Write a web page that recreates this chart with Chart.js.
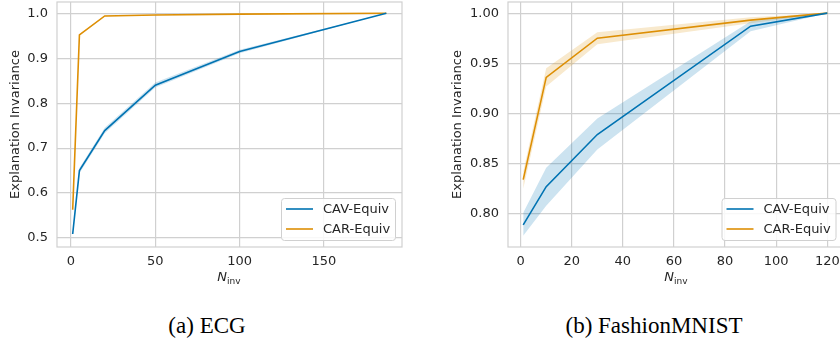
<!DOCTYPE html>
<html>
<head>
<meta charset="utf-8">
<script src="https://cdn.jsdelivr.net/npm/chart.js@4"></script>
<style>
  html, body { margin: 0; padding: 0; background: #fff; overflow: hidden; }
  #wrap { position: relative; width: 840px; height: 339px; overflow: hidden; }
  canvas { position: absolute; top: 0; }
  .xt { position: absolute; top: 269px; font: 13px "DejaVu Sans"; color: #262626; transform: translateX(-50%); white-space: nowrap; }
  .xt sub { font-size: 9px; vertical-align: -3px; }
  .cap { position: absolute; top: 314px; font: 23px/23px "Liberation Serif"; color: #000; transform: translateX(-50%); white-space: nowrap; }
</style>
</head>
<body>
<div id="wrap">
  <canvas id="ecg"></canvas>
  <canvas id="fm"></canvas>
  <div class="xt" style="left:229px"><i>N</i><sub>inv</sub></div>
  <div class="xt" style="left:676px"><i>N</i><sub>inv</sub></div>
  <div class="cap" style="left:207px">(a) ECG</div>
  <div class="cap" style="left:654px">(b) FashionMNIST</div>
</div>
<script>
// ECG panel
const ecgN = [1, 5, 20, 50, 100, 187];
const ecgCav = [0.509, 0.650, 0.739, 0.840, 0.915, 1.0];
const ecgCavLo = [0.505, 0.644, 0.733, 0.835, 0.911, 1.0];
const ecgCavHi = [0.513, 0.656, 0.745, 0.846, 0.919, 1.0];
const ecgCar = [0.563, 0.952, 0.994, 0.996, 0.998, 1.0];
const ecgCarLo = [0.560, 0.950, 0.993, 0.996, 0.998, 1.0];
const ecgCarHi = [0.566, 0.954, 0.995, 0.997, 0.998, 1.0];
const ecgXTicks = [0, 50, 100, 150];
const ecgYTicks = [0.5, 0.6, 0.7, 0.8, 0.9, 1.0];

// FashionMNIST panel
const fmN = [1, 10, 30, 90, 120];
const fmCav = [0.789, 0.827, 0.879, 0.987, 1.0];
const fmCavLo = [0.778, 0.808, 0.864, 0.982, 1.0];
const fmCavHi = [0.801, 0.846, 0.895, 0.992, 1.0];
const fmCar = [0.834, 0.936, 0.975, 0.993, 1.0];
const fmCarLo = [0.825, 0.927, 0.969, 0.990, 1.0];
const fmCarHi = [0.842, 0.945, 0.981, 0.996, 1.0];
const fmXTicks = [0, 20, 40, 60, 80, 100, 120];
const fmYTicks = [0.80, 0.85, 0.90, 0.95, 1.00];

const seriesNames = ['CAV-Equiv', 'CAR-Equiv'];
const BLUE = '#0173b2', ORANGE = '#de8f05';
const INK = '#262626', GRID = '#d0d0d0';

function pts(xs, ys) {
    return xs.map((x, i) => ({ x: x, y: ys[i] }));
}

function bandSets(xs, lo, hi, color) {
    return [
        { data: pts(xs, lo), borderWidth: 0, pointRadius: 0, fill: false },
        { data: pts(xs, hi), borderWidth: 0, pointRadius: 0, fill: '-1', backgroundColor: color }
    ];
}

// plot frame around the chart area
const framePlugin = {
    id: 'frame',
    beforeDatasetsDraw(chart) {
        const a = chart.chartArea, ctx = chart.ctx;
        ctx.save();
        ctx.strokeStyle = GRID;
        ctx.lineWidth = 1.2;
        ctx.strokeRect(a.left, a.top, a.right - a.left, a.bottom - a.top);
        ctx.restore();
    }
};

// legend box in the lower right of the plot
const boxLegend = {
    id: 'boxLegend',
    afterDraw(chart) {
        const a = chart.chartArea, ctx = chart.ctx;
        const w = 114, h = 42;
        const x0 = a.right - 7 - w, y0 = a.bottom - 7 - h;
        ctx.save();
        ctx.fillStyle = 'rgba(255,255,255,0.85)';
        ctx.strokeStyle = GRID;
        ctx.lineWidth = 1;
        ctx.beginPath();
        ctx.roundRect(x0 + 0.5, y0 + 0.5, w, h, 3);
        ctx.fill();
        ctx.stroke();
        const cols = [BLUE, ORANGE];
        ctx.font = '13px "DejaVu Sans"';
        ctx.textBaseline = 'middle';
        seriesNames.forEach((name, i) => {
            const yy = y0 + 11 + i * 20;
            ctx.strokeStyle = cols[i];
            ctx.lineWidth = 1.6;
            ctx.beginPath();
            ctx.moveTo(x0 + 5, yy);
            ctx.lineTo(x0 + 32, yy);
            ctx.stroke();
            ctx.fillStyle = INK;
            ctx.fillText(name, x0 + 42, yy + 1);
        });
        ctx.restore();
    }
};

function makeChart(id, cfg) {
    const cv = document.getElementById(id);
    cv.style.left = cfg.left + 'px';
    cv.width = cfg.width;
    cv.height = 270;
    cv.style.width = cfg.width + 'px';
    cv.style.height = '270px';
    const datasets = [
        ...bandSets(cfg.n, cfg.cavLo, cfg.cavHi, 'rgba(1,115,178,0.2)'),
        ...bandSets(cfg.n, cfg.carLo, cfg.carHi, 'rgba(222,143,5,0.2)'),
        { label: seriesNames[0], data: pts(cfg.n, cfg.cav), borderColor: BLUE, borderWidth: 1.6, pointRadius: 0, fill: false, tension: 0 },
        { label: seriesNames[1], data: pts(cfg.n, cfg.car), borderColor: ORANGE, borderWidth: 1.6, pointRadius: 0, fill: false, tension: 0 }
    ];
    return new Chart(cv, {
        type: 'line',
        data: { datasets: datasets },
        options: {
            responsive: false,
            animation: false,
            layout: { padding: { top: 2, right: cfg.padRight, bottom: 0, left: 0 } },
            plugins: { legend: { display: false }, tooltip: { enabled: false } },
            scales: {
                x: {
                    type: 'linear',
                    min: cfg.xMin, max: cfg.xMax,
                    grid: { color: GRID, lineWidth: 1.2, drawTicks: false },
                    border: { display: false },
                    ticks: { color: INK, font: { family: 'DejaVu Sans', size: 13 }, padding: 7, maxRotation: 0 },
                    afterBuildTicks: s => { s.ticks = cfg.xTicks.map(v => ({ value: v })); },
                    afterFit: s => { s.height = 23; s.paddingLeft = 0; s.paddingRight = 0; }
                },
                y: {
                    min: cfg.yMin, max: cfg.yMax,
                    grid: { color: GRID, lineWidth: 1.2, drawTicks: false },
                    border: { display: false },
                    ticks: {
                        color: INK, font: { family: 'DejaVu Sans', size: 13 }, padding: 9,
                        callback: v => v.toFixed(cfg.yDec)
                    },
                    title: { display: true, text: 'Explanation Invariance', color: INK, font: { family: 'DejaVu Sans', size: 13 }, padding: { top: cfg.titlePad, bottom: 0 } },
                    afterBuildTicks: s => { s.ticks = cfg.yTicks.map(v => ({ value: v })); },
                    afterFit: s => { s.width = cfg.yWidth; s.paddingTop = 0; s.paddingBottom = 0; }
                }
            }
        },
        plugins: [framePlugin, boxLegend]
    });
}

makeChart('ecg', {
    left: 0, width: 420, padRight: 18, yWidth: 57, titlePad: 8, yDec: 1,
    n: ecgN, cav: ecgCav, cavLo: ecgCavLo, cavHi: ecgCavHi, car: ecgCar, carLo: ecgCarLo, carHi: ecgCarHi,
    xMin: -8.3, xMax: 196.3, yMin: 0.480, yMax: 1.025, xTicks: ecgXTicks, yTicks: ecgYTicks
});

makeChart('fm', {
    left: 420, width: 430, padRight: 7.5, yWidth: 88, titlePad: 30, yDec: 2,
    n: fmN, cav: fmCav, cavLo: fmCavLo, cavHi: fmCavHi, car: fmCar, carLo: fmCarLo, carHi: fmCarHi,
    xMin: -4.95, xMax: 125.95, yMin: 0.7669, yMax: 1.0111, xTicks: fmXTicks, yTicks: fmYTicks
});
</script>
</body>
</html>
